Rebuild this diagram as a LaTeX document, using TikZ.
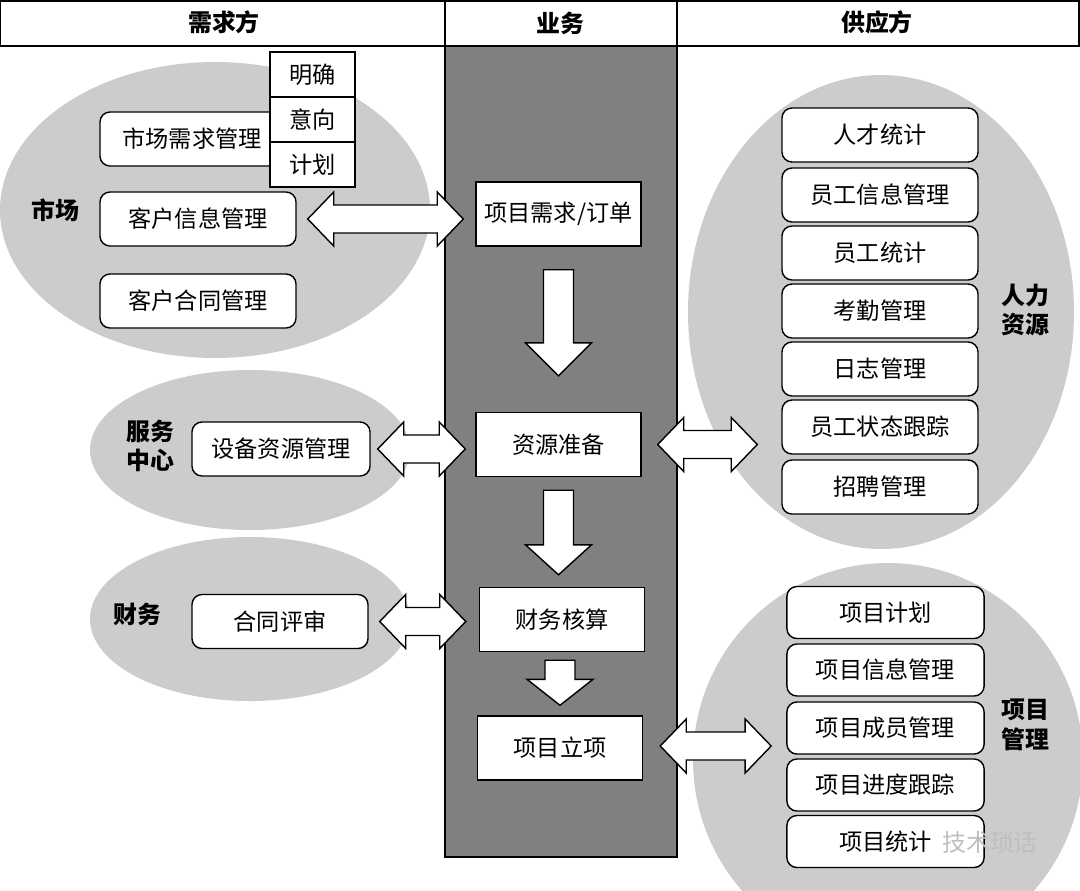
\documentclass[tikz,border=0pt]{standalone}
\usepackage{fontspec}
\setmainfont{Noto Sans CJK SC}
\usetikzlibrary{calc,positioning}

% fat two-way arrow between two tips (left, right)
\newcommand{\twoway}[2]{%
  \draw[fatarr] (#1) -- ($(#1)+(26,-27)$) -- ($(#1)+(26,-14)$) -- ($(#2)+(-26,-14)$)
    -- ($(#2)+(-26,-27)$) -- (#2) -- ($(#2)+(-26,27)$) -- ($(#2)+(-26,14)$)
    -- ($(#1)+(26,14)$) -- ($(#1)+(26,27)$) -- cycle;}
% fat down arrow: shaft top, tip, head length
\newcommand{\downarr}[3]{%
  \draw[fatarr] ($(#1)+(-15,0)$) -- ($(#1)+(15,0)$) -- ($(#2)+(15,-#3)$)
    -- ($(#2)+(33,-#3)$) -- (#2) -- ($(#2)+(-33,-#3)$) -- ($(#2)+(-15,-#3)$) -- cycle;}

\begin{document}
\begin{tikzpicture}[
  x=0.025cm,y=-0.025cm,
  every node/.style={font=\fontsize{16.5}{19}\selectfont},
  blob/.style={fill=black!20,draw=none},
  rbox/.style={draw,line width=1pt,rounded corners=0.25cm,fill=white,minimum height=1.35cm},
  sbox/.style={draw,line width=1pt,fill=white,minimum width=2.125cm,minimum height=1.125cm},
  mbox/.style={draw,line width=1pt,fill=white,minimum width=4.125cm,minimum height=1.6cm},
  tag/.style={font=\fontsize{17}{21}\selectfont\bfseries,align=center},
  fatarr/.style={draw,line width=1pt,fill=white,line join=miter}
]
  \useasboundingbox (0,0) rectangle (1080,890);
  \clip (0,0) rectangle (1080,890);

  % grey groups
  \fill[blob] (215,210) ellipse [x radius=215,y radius=148];
  \fill[blob] (250,450) ellipse [x radius=160,y radius=80];
  \fill[blob] (250,619) ellipse [x radius=160,y radius=82];
  \fill[blob] (881,312) ellipse [x radius=193,y radius=237];
  \fill[blob] (888,760) ellipse [x radius=195,y radius=197];

  % header and business column
  \draw[line width=1.2pt] (0,1) rectangle (1079,46);
  \draw[line width=1.2pt] (445,1) -- (445,46) (677,1) -- (677,46);
  \draw[line width=1.2pt,fill=black!50] (445,46) rectangle (677,857);
  \node[tag] (hdl) at (224,22) {需求方};
  \node[tag] (hdm) at (560,23) {业务};
  \node[tag] (hdr) at (877,22) {供应方};

  % demand side
  \node[tag] (lsc) at (55,210) {市场};
  \node[rbox,minimum width=4.6cm] (scxq) at (192,139) {市场需求管理};
  \node[sbox] (mq) at (312.5,74.5) {明确};
  \node[sbox] (yx) at (312.5,119.5) {意向};
  \node[sbox] (jh) at (312.5,164.5) {计划};
  \node[rbox,minimum width=4.9cm] (khxx) at (198,219) {客户信息管理};
  \node[rbox,minimum width=4.9cm] (khht) at (198,301) {客户合同管理};

  \node[tag] (lfw) at (150,446) {服务\\中心};
  \node[rbox,minimum width=4.45cm] (sbzy) at (281,449) {设备资源管理};
  \node[tag] (lcw) at (137,614) {财务};
  \node[rbox,minimum width=4.4cm] (htps) at (280,621.5) {合同评审};

  % business flow
  \node[mbox] (xqdd) at (558.5,214) {项目需求/订单};
  \node[mbox] (zyzb) at (558.5,444.5) {资源准备};
  \node[mbox] (cwhs) at (562,619.5) {财务核算};
  \node[mbox] (xmlx) at (560,748) {项目立项};

  % supply side
  \node[tag] (lrl) at (1025,310) {人力\\资源};
  \node[rbox,minimum width=4.9cm] (rctj) at (880,135) {人才统计};
  \node[rbox,minimum width=4.9cm] (ygxx) at (880,195) {员工信息管理};
  \node[rbox,minimum width=4.9cm] (ygtj) at (880,253) {员工统计};
  \node[rbox,minimum width=4.9cm] (kqgl) at (880,311) {考勤管理};
  \node[rbox,minimum width=4.9cm] (rzgl) at (880,369) {日志管理};
  \node[rbox,minimum width=4.9cm] (ygzt) at (880,427) {员工状态跟踪};
  \node[rbox,minimum width=4.9cm] (zpgl) at (880,487) {招聘管理};

  \node[tag] (lxm) at (1025,725) {项目\\管理};
  \node[rbox,minimum width=4.93cm,minimum height=1.3cm] (xmjh) at (885.5,612.5) {项目计划};
  \node[rbox,minimum width=4.93cm,minimum height=1.3cm] (xmxx) at (885.5,670) {项目信息管理};
  \node[rbox,minimum width=4.93cm,minimum height=1.3cm] (xmcy) at (885.5,728) {项目成员管理};
  \node[rbox,minimum width=4.93cm,minimum height=1.3cm] (xmjd) at (885.5,785) {项目进度跟踪};
  \node[rbox,minimum width=4.93cm,minimum height=1.3cm] (xmtj) at (885.5,841.5) {项目统计};

  % arrows
  \coordinate (a1l) at ($(khxx.east)+(11,0)$);
  \coordinate (a1r) at ($(khxx.east -| xqdd.west)+(-12,0)$);
  \coordinate (a2l) at ($(sbzy.east)+(7,0)$);
  \coordinate (a2r) at ($(sbzy.east -| zyzb.west)+(-10,0)$);
  \coordinate (a3l) at ($(htps.east)+(11,0)$);
  \coordinate (a3r) at ($(htps.east -| cwhs.west)+(-13,0)$);
  \coordinate (a4l) at ($(zyzb.east)+(16,0)$);
  \coordinate (a4r) at ($(zyzb.east -| ygzt.west)+(-24,0)$);
  \coordinate (a5l) at ($(xmlx.east)+(17,-2)$);
  \coordinate (a5r) at ($(xmlx.east -| xmcy.west)+(-15,-2)$);
  \twoway{a1l}{a1r}
  \twoway{a2l}{a2r}
  \twoway{a3l}{a3r}
  \twoway{a4l}{a4r}
  \twoway{a5l}{a5r}

  \coordinate (d1s) at ($(xqdd.south)+(0,23)$);
  \coordinate (d1t) at ($(xqdd.south |- zyzb.north)+(0,-36)$);
  \coordinate (d2s) at ($(zyzb.south)+(0,13)$);
  \coordinate (d2t) at ($(zyzb.south |- cwhs.north)+(0,-12)$);
  \coordinate (d3s) at ($(cwhs.south)+(-2,8)$);
  \coordinate (d3t) at ($(cwhs.south |- xmlx.north)+(-2,-10)$);
  \downarr{d1s}{d1t}{33}
  \downarr{d2s}{d2t}{30}
  \downarr{d3s}{d3t}{26}

  \node[text=black!25,font=\fontsize{17}{20}\selectfont] (wm) at (990,842) {技术琐话};
\end{tikzpicture}
\end{document}
